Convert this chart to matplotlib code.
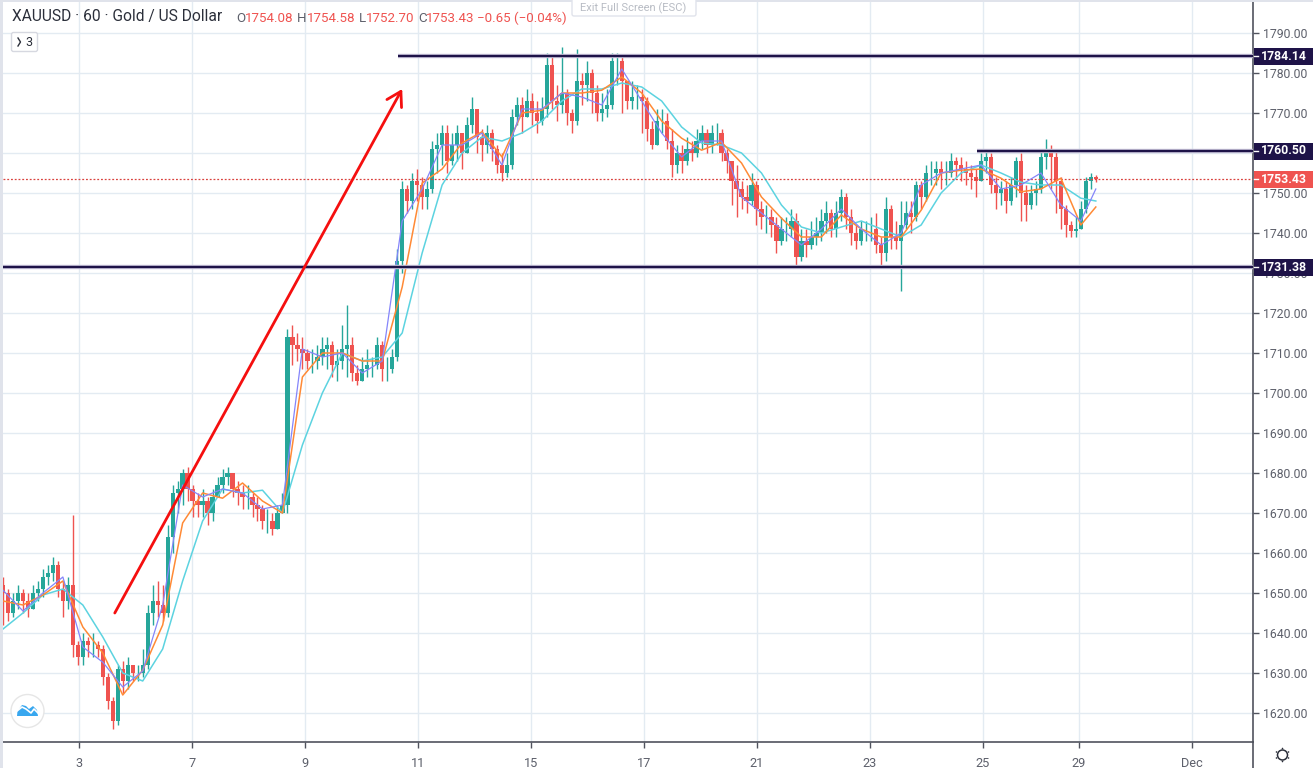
import matplotlib
matplotlib.use("Agg")
import matplotlib.pyplot as plt
from matplotlib.patches import Circle, FancyBboxPatch, Polygon, Rectangle

plt.rcParams['font.family'] = ['Roboto', 'DejaVu Sans']

# hourly candles, thinned out
closes = [
    1650,1645,1648,1650,1648,1646,1650,1651,1654,1655,1657,1651,1648,1652,1637,1634,1638,1637,1637,1636,
    1629,1623,1618,1631,1628,1632,1630,1630,1632,1645,1648,1647,1645,1664,1675,1676,1680,1676,1673,1672,
    1673,1670,1674,1677,1679,1680,1676,1675,1674,1674,1672,1671,1668,1668,1666,1670,1672,1714,1712,1711,
    1710,1708,1708,1709,1711,1712,1707,1708,1711,1712,1705,1703,1706,1707,1707,1712,1706,1706,1709,1733,
    1751,1748,1753,1752,1749,1751,1761,1762,1765,1758,1762,1765,1760,1767,1771,1764,1762,1765,1761,1757,
    1755,1757,1769,1772,1769,1773,1770,1768,1771,1782,1773,1772,1775,1770,1768,1778,1777,1780,1775,1770,
    1771,1772,1783,1783,1778,1773,1774,1774,1773,1766,1762,1768,1768,1763,1757,1760,1758,1761,1760,1763,
    1765,1762,1765,1765,1760,1758,1753,1751,1749,1748,1752,1746,1744,1744,1742,1738,1741,1741,1743,1734,
    1738,1737,1739,1740,1743,1745,1741,1745,1749,1744,1740,1738,1741,1741,1741,1737,1735,1746,1739,1738,
    1742,1745,1744,1752,1749,1755,1755,1756,1755,1755,1758,1757,1756,1755,1754,1753,1758,1759,1752,1750,
    1751,1748,1752,1758,1750,1747,1750,1751,1759,1761,1759,1753,1746,1742,1740.5,1741,1746,1753,1754.08,1753.43,
]
highs = [
    1654,1651,1650,1652,1651,1650,1652,1653,1656,1657,1659,1658,1653,1654,1669.5,1638,1640,1639,1640,1638,
    1637,1630,1624,1632,1633,1634,1632,1632,1636,1647,1652,1653,1652,1667,1677,1678,1681,1681.5,1677,1675,
    1676,1674,1676,1679,1681,1681.5,1680,1678,1677,1677,1675,1674,1672,1671,1670,1672,1675,1716,1717,1715,
    1714,1711,1711,1712,1714,1714,1713,1711,1717,1722,1714,1707,1709,1711,1709,1714,1713,1709,1711,1736,
    1753,1752,1755,1756,1754,1753,1763,1765,1767,1767,1765,1767,1764,1769,1774,1769,1766,1767,1766,1762,
    1760,1760,1771,1774,1774,1776,1775,1773,1774,1785,1784,1777,1786.5,1776,1771,1786,1780,1783,1781,1777,
    1775,1776,1785,1785,1784,1778,1778,1777,1776,1774,1768,1771,1771,1770,1766,1762,1762,1764,1763,1766,
    1767,1766,1767,1767.5,1766,1761,1758,1757,1753,1752,1755,1753,1748,1747,1746,1744,1744,1744,1746,1745,
    1741,1741,1743,1744,1746,1748,1746,1748,1751,1750,1746,1742,1743,1743,1744,1745,1739,1749,1747,1743,
    1748,1748,1748,1753,1753,1757,1758,1758,1758,1758,1760,1759,1759,1758,1757,1756,1760,1760.5,1760,1754,
    1753,1753,1754,1759,1760,1752,1752,1753,1761,1763.5,1762,1761,1754,1747,1743,1744,1748,1754,1755,1754.58,
]
lows = [
    1642,1643,1644,1646,1645,1644,1646,1648,1649,1652,1653,1649,1644,1646,1634,1632,1632,1634,1634,1634,
    1627,1621,1616,1617,1625,1626,1628,1628,1629,1631,1642,1644,1643,1644,1660,1670,1672,1673,1669,1669,
    1669,1667,1668,1674,1675,1677,1674,1672,1671,1671,1669,1668,1666,1665,1664.5,1666,1670,1670,1707,1708,
    1706,1706,1705,1706,1707,1706,1704,1703,1706,1704,1703,1702,1703,1704,1704,1706,1703,1703,1705,1708,
    1730,1745,1746,1748,1746,1746,1750,1755,1757,1755,1757,1758,1756,1760,1765,1760,1758,1760,1758,1755,
    1753,1754,1756,1767,1765,1769,1767,1765,1767,1769,1771,1768,1770,1767,1765,1767,1772,1773,1770,1768,
    1768,1769,1771,1777,1770,1771,1771,1771,1765,1763,1761,1762,1765,1761,1754,1755,1755,1757,1758,1759,
    1761,1760,1760,1762,1758,1755,1747,1744,1746,1745,1747,1742,1741,1740,1739,1735,1737,1738,1739,1732,
    1733,1734,1736,1737,1738,1740,1739,1739,1743,1741,1737,1736,1737,1738,1738,1735,1732,1733,1736,1736,
    1725.5,1741,1740,1743,1746,1748,1752,1752,1751,1752,1754,1754,1753,1752,1751,1749,1753,1755,1750,1746,
    1747,1745,1747,1749,1743,1743,1746,1747,1750,1756,1751,1745,1741,1739,1739,1739,1741,1745,1751,1752.7,
]
first_open = 1652

# moving averages, one reading every fourth candle plus the last one
ma_slow = [1641,1645,1649.5,1651,1647,1639,1630,1628,1636,1653,1668,1676,1675,1675.7,1670,1687,1700,1710,1708,
           1709,1715,1735,1752,1760,1764,1763,1765,1768,1773,1776,1776,1777.5,1776.5,1773,1766.5,1762.5,1762,
           1760,1755,1747,1741.5,1740,1741.5,1743,1741,1739,1742,1750,1755,1757,1755,1752.7,1752,1752,1748.7,1748]
ma_mid = [1648,1647,1649.5,1653,1641.5,1635,1624.5,1630.7,1642,1667.5,1675,1673.7,1677.5,1673,1670,1704,1710,1710,
          1708,1708,1726.5,1752.5,1756,1762.5,1765.3,1759,1770,1770.7,1775,1775,1775.7,1779,1775,1768,1763.7,
          1760.7,1762.7,1757.5,1749,1743.7,1739,1739,1744.5,1741,1739,1739,1745.7,1755,1755.7,1756,1753.7,
          1750.3,1751,1753.7,1742,1746.5]
ma_fast = [1650.7,1645.5,1650,1654,1636.5,1632.7,1626.5,1630.5,1647,1677,1674,1676,1675,1671,1672,1711,1709,1710,
           1705,1708,1743,1751,1762,1762,1765,1757,1771,1771,1775,1774,1772,1781,1773,1765,1759,1763,1763,1749,
           1745,1741,1737,1741,1746,1741,1737,1740,1752,1755,1756,1757,1751,1752,1755,1747,1743,1751]

y_ticks = [1620,1630,1640,1650,1660,1670,1680,1690,1700,1710,1720,1730,1740,1750,1760,1770,1780,1790]
day_labels = ['3','7','9','11','15','17','21','23','25','29','Dec']
day_pos = [15.2,37.9,60.5,83.1,105.8,128.4,151.1,173.7,196.4,215.6,238.2]

last_price = 1753.43
level_low = 1731.38
level_mid = 1760.50
level_high = 1784.14

GREEN = '#26a69a'
RED = '#ef5350'
NAVY = '#1e1348'
GRID = '#e3ebf2'
AXC = '#50535e'
TXT = '#5d606b'

W, H = 1313, 768
fig = plt.figure(figsize=(W / 100, H / 100), dpi=100, facecolor='white')

# chart area in pixels: x 3..1253, y 0..742
ax = fig.add_axes([3 / W, (H - 742) / H, 1250 / W, 742 / H])
ax.set_xlim(0, 1250 / 4.99)
ax.set_ylim(1790 - 709 / 4, 1790 + 33 / 4)
ax.set_facecolor('white')
ax.yaxis.tick_right()
ax.set_yticks(y_ticks)
ax.set_yticklabels(['%.2f' % v for v in y_ticks], fontsize=8.8, color=TXT)
ax.set_xticks(day_pos)
ax.set_xticklabels(day_labels, fontsize=9.2, color=TXT)
ax.tick_params(axis='both', color=AXC, length=4, width=1, pad=3)
ax.tick_params(axis='x', pad=7)
ax.grid(True, color=GRID, linewidth=1)
ax.set_axisbelow(True)
for side in ['top', 'left']:
    ax.spines[side].set_visible(False)
for side in ['right', 'bottom']:
    ax.spines[side].set_color(AXC)
    ax.spines[side].set_linewidth(1.2)

xs = list(range(len(closes)))
opens = [first_open] + closes[:-1]
colors = [GREEN if c >= o else RED for o, c in zip(opens, closes)]

ax.vlines(xs, lows, highs, colors=colors, linewidth=1, zorder=2)
ax.bar(xs, [c - o for o, c in zip(opens, closes)], bottom=opens, width=0.86,
       color=colors, linewidth=0, zorder=3)

ma_x = list(range(0, 217, 4)) + [219]
ax.plot(ma_x, ma_slow, color='#5cd3e0', linewidth=1.1, zorder=4)
ax.plot(ma_x, ma_mid, color='#ff8a36', linewidth=1.1, zorder=5)
ax.plot(ma_x, ma_fast, color='#8585fa', linewidth=0.9, zorder=6)

# last price
ax.axhline(last_price, color='#d9423f', linewidth=0.9, linestyle=(0, (1.5, 1.5)), zorder=4)

# drawn levels
for lev, start in [(level_low, 0), (level_high, 79.2), (level_mid, 195.2)]:
    ax.plot([start, 250.5], [lev, lev], color='#cfcbe0', linewidth=3.2, zorder=7, solid_capstyle='butt')
    ax.plot([start, 250.5], [lev, lev], color=NAVY, linewidth=1.7, zorder=8, solid_capstyle='butt')

# red arrow
ax.annotate('', xy=(80, 1776), xytext=(22.4, 1645), zorder=9,
            arrowprops=dict(arrowstyle='->,head_length=0.5,head_width=0.3', color='#f50f0f',
                            lw=2, mutation_scale=20, shrinkA=0, shrinkB=0))

# overlay in pixel coordinates for the chrome around the chart
ov = fig.add_axes([0, 0, 1, 1], zorder=10)
ov.set_xlim(0, W)
ov.set_ylim(H, 0)
ov.axis('off')
ov.patch.set_alpha(0)

ov.add_patch(Rectangle((0, 0), 3, H, color='#e0e3eb', lw=0))
ov.add_patch(Rectangle((0, 0), W, 1.5, color='#e0e3eb', lw=0))
ov.plot([1253, 1253], [742, H], color=AXC, lw=1.2)

ov.text(12, 17, 'XAUUSD · 60 · Gold / US Dollar', fontsize=11.2, color='#2b2f3a', va='center')
legend_bits = [(236, 'O', TXT), (245, '1754.08', RED), (297, 'H', TXT), (307, '1754.58', RED),
               (359, 'L', TXT), (366, '1752.70', RED), (418, 'C', TXT), (426, '1753.43', RED),
               (477, '−0.65 (−0.04%)', RED)]
for px, s, col in legend_bits:
    ov.text(px, 18, s, fontsize=9.6, color=col, va='center')

ov.add_patch(FancyBboxPatch((572, -4), 124, 20, boxstyle='round,pad=0,rounding_size=2',
                            fc='white', ec='#e0e3eb', lw=1))
ov.text(633, 8, 'Exit Full Screen (ESC)', fontsize=8, color='#b8bcc4', ha='center', va='center')

ov.add_patch(FancyBboxPatch((11.5, 32.5), 26, 19, boxstyle='round,pad=0,rounding_size=2',
                            fc='white', ec='#d6d8e0', lw=1))
ov.plot([18, 20.5, 18], [38, 42, 46], color='#2b2f3a', lw=1)
ov.text(29, 42, '3', fontsize=9, color='#2b2f3a', ha='center', va='center')

# axis price tags
for lev, s, col in [(level_high, '1784.14', NAVY), (level_mid, '1760.50', NAVY),
                    (last_price, '1753.43', RED), (level_low, '1731.38', NAVY)]:
    py = 33 + (1790 - lev) * 4
    ov.add_patch(Rectangle((1253.5, py - 8.5), W - 1253.5, 17, color=col, lw=0))
    ov.plot([1253.5, 1258], [py, py], color='white', lw=1)
    ov.text(1284, py, s, fontsize=8.8, fontweight='bold', color='white', ha='center', va='center')

# logo bottom left
ov.add_patch(Circle((27.5, 711), 16.5, fc='white', ec='#e6e6e6', lw=1))
ov.add_patch(Polygon([(17, 716), (17.5, 711), (22, 705), (26, 706), (29, 709), (33, 706),
                      (37, 710), (38, 716)], closed=True, fc='#38a7ef', ec='none'))
ov.plot([17, 22, 26, 31, 34, 38], [711, 707, 709, 713, 709, 713], color='white', lw=1.2)

# settings gear
ov.add_patch(Circle((1282.5, 755), 5, fc='white', ec='#2b2f3a', lw=1.1))
for dx, dy in [(0, -6.5), (0, 6.5), (-6, -3), (6, -3), (-6, 3), (6, 3)]:
    ov.add_patch(Circle((1282.5 + dx, 755 + dy), 0.8, fc='#2b2f3a', ec='none'))

fig.savefig('out.png', dpi=100, facecolor='white')
